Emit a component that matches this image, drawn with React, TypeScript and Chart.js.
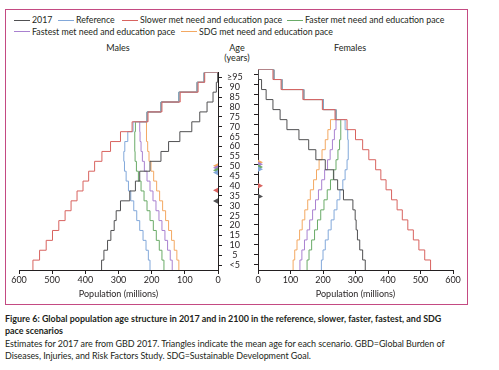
import React, { useEffect, useRef } from "react";
import { Chart, registerables } from "chart.js";

Chart.register(...registerables);

const FONT = "Lato, 'DejaVu Sans Condensed', sans-serif";
const INK = "#231f20";

// Age groups (bottom to top); tick value = start of the group
const ageStarts = [0, 5, 10, 15, 20, 25, 30, 35, 40, 45, 50, 55, 60, 65, 70, 75, 80, 85, 90, 95];
const ageLabels = ["<5", "5", "10", "15", "20", "25", "30", "35", "40", "45", "50", "55", "60", "65", "70", "75", "80", "85", "90", "≥95"];
const popTicks = [0, 100, 200, 300, 400, 500, 600];

const seriesNames = [
  "2017",
  "Reference",
  "Slower met need and education pace",
  "Faster met need and education pace",
  "Fastest met need and education pace",
  "SDG met need and education pace",
];
const seriesColors = ["#505052", "#82a8da", "#d8635f", "#6aab68", "#a981d0", "#f3a862"];

// Males, population (millions) per age group
const males2017 = [351, 344, 333, 323, 313, 307, 294, 266, 249, 236, 205, 172, 149, 115, 79, 55, 33, 15, 5, 1];
const malesReference = [205, 210, 217, 226, 236, 245, 254, 263, 270, 277, 282, 284, 281, 272, 256, 214, 172, 118, 63, 42];
const malesSlower = [558, 538, 518, 499, 480, 461, 443, 425, 407, 390, 372, 350, 324, 294, 259, 211, 169, 114, 60, 40];
const malesFaster = [163, 169, 177, 186, 195, 205, 214, 223, 232, 240, 246, 250, 251, 251, 249, 214, 172, 118, 63, 42];
const malesFastest = [138, 144, 152, 160, 169, 178, 187, 196, 205, 214, 222, 228, 232, 235, 236, 214, 172, 118, 63, 42];
const malesSDG = [118, 124, 132, 140, 149, 158, 167, 176, 185, 194, 202, 208, 212, 215, 216, 214, 172, 118, 63, 42];

// Females, population (millions) per age group
const females2017 = [330, 322, 313, 306, 302, 299, 292, 263, 245, 233, 207, 178, 156, 126, 89, 68, 46, 25, 11, 3];
const femalesReference = [195, 200, 207, 216, 225, 234, 243, 252, 261, 268, 274, 277, 278, 276, 268, 240, 201, 141, 74, 49];
const femalesSlower = [531, 513, 495, 478, 461, 444, 428, 411, 394, 378, 362, 341, 322, 300, 274, 237, 198, 138, 71, 46];
const femalesFaster = [151, 157, 165, 174, 183, 193, 203, 213, 223, 232, 240, 246, 251, 254, 255, 240, 201, 141, 74, 49];
const femalesFastest = [129, 135, 143, 151, 159, 168, 177, 186, 196, 205, 214, 222, 229, 235, 240, 240, 201, 141, 74, 49];
const femalesSDG = [108, 113, 120, 128, 136, 144, 153, 161, 171, 180, 188, 197, 207, 215, 223, 240, 201, 141, 74, 49];

// Mean age (years) per scenario, order as seriesNames
const meanAgeMales = [32.4, 46.8, 37.8, 48.0, 49.2, 50.2];
const meanAgeFemales = [34.2, 47.8, 39.5, 48.9, 50.2, 51.2];

const malesSeries = [males2017, malesReference, malesSlower, malesFaster, malesFastest, malesSDG];
const femalesSeries = [females2017, femalesReference, femalesSlower, femalesFaster, femalesFastest, femalesSDG];

// dataset draw order (first = on top)
const drawOrder = [2, 0, 1, 3, 4, 5];

const BAND = 5;

function stepPoints(vals: number[]) {
  const pts: { x: number; y: number }[] = [];
  vals.forEach((v, i) => {
    pts.push({ x: v, y: ageStarts[i] - BAND / 2 });
    pts.push({ x: v, y: ageStarts[i] + BAND / 2 });
  });
  pts.push({ x: 0, y: ageStarts[ageStarts.length - 1] + BAND / 2 });
  return pts;
}

function trianglePlugin(ages: number[], isLeft: boolean) {
  return {
    id: "meanAgeTriangles",
    afterDatasetsDraw(chart: any) {
      const { ctx, scales } = chart;
      const xs = scales.x;
      const ys = scales.y;
      const x0 = xs.getPixelForValue(0);
      const dir = isLeft ? -1 : 1;
      ctx.save();
      for (let i = ages.length - 1; i >= 0; i--) {
        const yp = ys.getPixelForValue(ages[i]);
        ctx.beginPath();
        ctx.moveTo(x0, yp - 2.7);
        ctx.lineTo(x0 + dir * 5, yp);
        ctx.lineTo(x0, yp + 2.7);
        ctx.closePath();
        ctx.fillStyle = seriesColors[i];
        ctx.fill();
      }
      ctx.restore();
    },
  };
}

function makeConfig(isLeft: boolean, series: number[][], meanAges: number[]): any {
  return {
    type: "scatter",
    data: {
      datasets: drawOrder.map((i) => ({
        label: seriesNames[i],
        data: stepPoints(series[i]),
        borderColor: seriesColors[i],
        backgroundColor: seriesColors[i],
        borderWidth: 1,
        showLine: true,
        pointRadius: 0,
        fill: false,
        tension: 0,
      })),
    },
    options: {
      animation: false,
      responsive: false,
      maintainAspectRatio: false,
      events: [],
      layout: {
        padding: isLeft
          ? { left: 12, top: 7.5, right: 0, bottom: 0 }
          : { left: 0, top: 7.5, right: 12, bottom: 0 },
      },
      plugins: {
        legend: { display: false },
        tooltip: { enabled: false },
        title: { display: false },
      },
      scales: {
        x: {
          type: "linear",
          min: popTicks[0],
          max: popTicks[popTicks.length - 1],
          reverse: isLeft,
          position: "bottom",
          afterBuildTicks: (s: any) => {
            s.ticks = popTicks.map((v) => ({ value: v }));
          },
          ticks: {
            font: { family: FONT, size: 9 },
            color: INK,
            padding: 1,
            maxRotation: 0,
            autoSkip: false,
          },
          grid: { drawOnChartArea: false, drawTicks: true, tickLength: 4, color: INK, lineWidth: 1 },
          border: { display: true, color: INK, width: 1 },
          title: {
            display: true,
            text: "Population (millions)",
            font: { family: FONT, size: 9 },
            color: INK,
            padding: { top: 2, bottom: 6 },
          },
          afterFit: (s: any) => {
            s.height = 35;
          },
        },
        y: {
          type: "linear",
          min: ageStarts[0] - BAND / 2,
          max: ageStarts[ageStarts.length - 1] + BAND / 2,
          position: isLeft ? "right" : "left",
          afterBuildTicks: (s: any) => {
            s.ticks = ageStarts.map((v) => ({ value: v }));
          },
          ticks: {
            display: isLeft,
            autoSkip: false,
            font: { family: FONT, size: 9 },
            color: INK,
            padding: 5,
            crossAlign: "center",
            callback: (_v: any, i: number) => ageLabels[i],
          },
          grid: { drawOnChartArea: false, drawTicks: true, tickLength: 4, color: INK, lineWidth: 1 },
          border: { display: true, color: INK, width: 1 },
          afterFit: (s: any) => {
            s.width = isLeft ? 40 : 8;
          },
        },
      },
    },
    plugins: [trianglePlugin(meanAges, isLeft)],
  };
}

const legendRows = [
  [
    { idx: 0, x: 14 },
    { idx: 1, x: 58 },
    { idx: 2, x: 122 },
    { idx: 3, x: 287 },
  ],
  [
    { idx: 4, x: 14 },
    { idx: 5, x: 181 },
  ],
];
const legendRowY = [20, 31.5];

export default function App() {
  const leftRef = useRef<HTMLCanvasElement | null>(null);
  const rightRef = useRef<HTMLCanvasElement | null>(null);

  useEffect(() => {
    const left = new Chart(leftRef.current as HTMLCanvasElement, makeConfig(true, malesSeries, meanAgeMales));
    const right = new Chart(rightRef.current as HTMLCanvasElement, makeConfig(false, femalesSeries, meanAgeFemales));
    return () => {
      left.destroy();
      right.destroy();
    };
  }, []);

  const textStyle: React.CSSProperties = {
    position: "absolute",
    fontSize: 9,
    lineHeight: "12px",
    whiteSpace: "nowrap",
    color: INK,
  };

  return (
    <div
      style={{
        position: "absolute",
        left: 0,
        top: 0,
        width: 499,
        height: 370,
        background: "#fff",
        fontFamily: FONT,
        color: INK,
        overflow: "hidden",
      }}
    >
      <div
        style={{
          position: "absolute",
          left: 5,
          top: 9,
          width: 463,
          height: 296,
          border: "1.5px solid #c44a82",
          boxSizing: "border-box",
        }}
      />
      {legendRows.map((row, r) =>
        row.map((item) => (
          <div
            key={r + "-" + item.idx}
            style={{
              ...textStyle,
              fontSize: 8.8,
              left: item.x,
              top: legendRowY[r] - 6,
              height: 12,
              display: "flex",
              alignItems: "center",
            }}
          >
            <span
              style={{
                display: "inline-block",
                width: 16,
                height: 0,
                borderTop: "1px solid " + seriesColors[item.idx],
                marginRight: 2,
              }}
            />
            <span>{seriesNames[item.idx]}</span>
          </div>
        ))
      )}
      <div style={{ ...textStyle, left: 118, top: 42, transform: "translateX(-50%)" }}>Males</div>
      <div style={{ ...textStyle, left: 237, top: 42, transform: "translateX(-50%)" }}>Age</div>
      <div style={{ ...textStyle, left: 237, top: 52, transform: "translateX(-50%)" }}>(years)</div>
      <div style={{ ...textStyle, left: 350, top: 42, transform: "translateX(-50%)" }}>Females</div>
      <canvas
        ref={leftRef}
        width={251}
        height={243}
        style={{ position: "absolute", left: 7, top: 62, width: 251, height: 243 }}
      />
      <canvas
        ref={rightRef}
        width={215}
        height={243}
        style={{ position: "absolute", left: 250, top: 62, width: 215, height: 243 }}
      />
      <div
        style={{
          position: "absolute",
          left: 5,
          top: 312.5,
          fontSize: 8.95,
          lineHeight: "12.6px",
          whiteSpace: "nowrap",
          color: INK,
        }}
      >
        <div style={{ fontWeight: 700 }}>
          Figure 6: Global population age structure in 2017 and in 2100 in the reference, slower, faster, fastest, and SDG
          <br />
          pace scenarios
        </div>
        <div style={{ letterSpacing: "-0.05px" }}>
          Estimates for 2017 are from GBD 2017. Triangles indicate the mean age for each scenario. GBD=Global Burden of
          <br />
          Diseases, Injuries, and Risk Factors Study. SDG=Sustainable Development Goal.
        </div>
      </div>
    </div>
  );
}
